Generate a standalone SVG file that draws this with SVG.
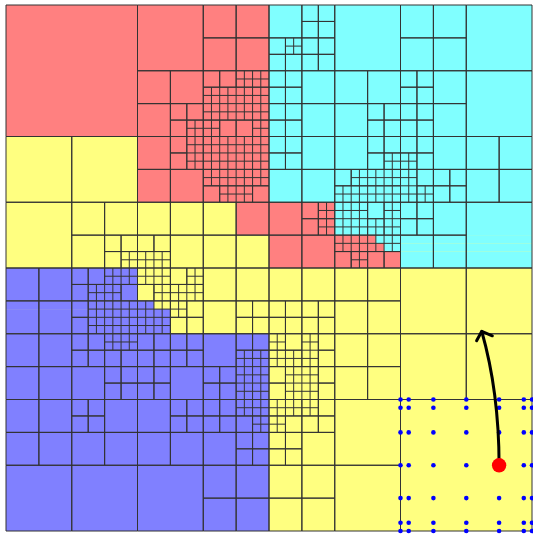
<svg xmlns="http://www.w3.org/2000/svg" width="533" height="534" viewBox="0 0 533 534">
<style>
.m path{fill:none;stroke:#333;stroke-width:1;vector-effect:non-scaling-stroke}
.r{fill:#FF8080}.y{fill:#FFFF80}.c{fill:#80FFFF}.b{fill:#8080FF}
.d{fill:#0000FF}
</style>
<rect width="533" height="534" fill="#fff"/>
<g id="mesh" transform="translate(6 5) scale(8.21875)">
<g id="colors">
<rect class="y" x="0" y="0" width="64" height="64"/>
<rect class="r" x="0" y="0" width="32" height="16"/>
<rect class="r" x="16" y="16" width="16" height="8"/>
<rect class="r" x="28" y="24" width="4" height="4"/>
<rect class="r" x="32" y="24" width="8" height="8"/>
<rect class="r" x="40" y="28" width="5" height="1"/>
<rect class="r" x="40" y="29" width="6" height="1"/>
<rect class="r" x="40" y="30" width="8" height="2"/>
<rect class="c" x="32" y="0" width="32" height="24"/>
<rect class="c" x="40" y="24" width="24" height="4"/>
<rect class="c" x="45" y="28" width="19" height="1"/>
<rect class="c" x="46" y="29" width="18" height="1"/>
<rect class="c" x="48" y="30" width="16" height="2"/>
<rect class="b" x="0" y="32" width="16" height="4"/>
<rect class="b" x="0" y="36" width="18" height="1"/>
<rect class="b" x="0" y="37" width="20" height="3"/>
<rect class="b" x="0" y="40" width="32" height="24"/>
</g>
<g class="m" id="cells">
<path id="q-tl" d="M0 0h16v16h-16z M16 0h8v8h-8z M24 0h4v4h-4z M28 0h4v4h-4z M24 4h4v4h-4z M28 4h4v4h-4z M16 8h4v4h-4z M20 8h4v4h-4z M16 12h4v4h-4z M20 12h2v2h-2z M22 12h2v2h-2z M20 14h2v2h-2z M22 14h2v2h-2z M22 15h2 M23 14v2 M24 8h2v2h-2z M26 8h2v2h-2z M28 8h4v2h-4z M28 9h4 M29 8v2 M30 8v2 M31 8v2 M24 10h8v4h-8z M24 11h8 M24 12h8 M24 13h8 M25 10v4 M26 10v4 M27 10v4 M28 10v4 M29 10v4 M30 10v4 M31 10v4 M24 14h2v2h-2z M24 15h2 M25 14v2 M26 14h2v2h-2z M28 14h2v2h-2z M30 14h2v2h-2z M30 15h2 M31 14v2 M16 16h4v4h-4z M20 16h2v2h-2z M20 18h2v2h-2z M22 16h2v4h-2z M22 17h2 M22 18h2 M22 19h2 M23 16v4 M16 20h4v4h-4z M20 20h4v4h-4z M24 16h8v4h-8z M24 17h8 M24 18h8 M24 19h8 M25 16v4 M26 16v4 M27 16v4 M28 16v4 M29 16v4 M30 16v4 M31 16v4 M24 20h8v2h-8z M24 21h8 M25 20v2 M26 20v2 M27 20v2 M28 20v2 M29 20v2 M30 20v2 M31 20v2 M24 22h2v2h-2z M26 22h4v2h-4z M26 23h4 M27 22v2 M28 22v2 M29 22v2 M30 22h2v2h-2z M0 16h8v8h-8z M8 16h8v8h-8z M0 24h8v8h-8z M8 24h4v4h-4z M12 24h4v4h-4z M8 28h4v4h-4z M12 28h2v2h-2z M14 28h2v2h-2z M12 30h2v2h-2z M14 30h2v2h-2z M14 31h2 M15 30v2 M16 24h4v4h-4z M20 24h4v4h-4z M16 28h2v2h-2z M18 28h2v2h-2z M16 30h4v2h-4z M16 31h4 M17 30v2 M18 30v2 M19 30v2 M20 28h4v4h-4z M24 24h4v4h-4z M28 24h4v4h-4z M24 28h4v4h-4z M28 28h4v4h-4z"/>
<path id="q-tr" d="M32 0h4v4h-4z M36 0h2v2h-2z M38 0h2v2h-2z M36 2h2v2h-2z M38 2h2v2h-2z M32 4h2v2h-2z M34 4h2v2h-2z M34 5h2 M35 4v2 M32 6h2v2h-2z M34 6h2v2h-2z M36 4h2v2h-2z M38 4h2v2h-2z M36 6h2v2h-2z M38 6h2v2h-2z M40 0h8v8h-8z M32 8h2v2h-2z M34 8h2v2h-2z M32 10h2v2h-2z M34 10h2v2h-2z M32 12h2v2h-2z M34 12h2v2h-2z M32 14h2v2h-2z M34 14h2v2h-2z M36 8h4v4h-4z M36 12h4v4h-4z M40 8h4v4h-4z M44 8h4v4h-4z M40 12h4v4h-4z M44 12h2v2h-2z M46 12h2v2h-2z M44 14h2v2h-2z M46 14h2v2h-2z M48 0h4v4h-4z M52 0h4v4h-4z M48 4h4v4h-4z M52 4h4v4h-4z M56 0h8v8h-8z M48 8h2v2h-2z M50 8h2v2h-2z M48 10h2v2h-2z M50 10h2v2h-2z M52 8h4v4h-4z M48 12h2v2h-2z M50 12h2v2h-2z M48 14h2v2h-2z M50 14h2v2h-2z M52 12h4v4h-4z M56 8h8v8h-8z M32 16h2v2h-2z M34 16h2v2h-2z M32 18h2v2h-2z M34 18h2v2h-2z M36 16h4v4h-4z M32 20h4v4h-4z M36 20h4v4h-4z M40 16h4v4h-4z M44 16h2v2h-2z M46 16h2v2h-2z M44 18h2v2h-2z M46 18h2v2h-2z M46 19h2 M47 18v2 M40 20h2v2h-2z M42 20h6v2h-6z M42 21h6 M43 20v2 M44 20v2 M45 20v2 M46 20v2 M47 20v2 M40 22h8v2h-8z M40 23h8 M41 22v2 M42 22v2 M43 22v2 M44 22v2 M45 22v2 M46 22v2 M47 22v2 M32 24h4v4h-4z M36 24h2v2h-2z M38 24h2v2h-2z M38 25h2 M39 24v2 M36 26h2v2h-2z M38 26h2v2h-2z M38 27h2 M39 26v2 M32 28h4v4h-4z M36 28h4v4h-4z M40 24h4v4h-4z M40 25h4 M40 26h4 M40 27h4 M41 24v4 M42 24v4 M43 24v4 M44 24h2v2h-2z M46 24h2v4h-2z M46 25h2 M46 26h2 M46 27h2 M47 24v4 M44 26h2v2h-2z M44 27h2 M45 26v2 M40 28h8v2h-8z M40 29h8 M41 28v2 M42 28v2 M43 28v2 M44 28v2 M45 28v2 M46 28v2 M47 28v2 M40 30h2v2h-2z M42 30h2v2h-2z M42 31h2 M43 30v2 M44 30h2v2h-2z M46 30h2v2h-2z M48 16h2v2h-2z M50 16h2v2h-2z M48 18h2v2h-2z M48 19h2 M49 18v2 M50 18h2v2h-2z M52 16h4v4h-4z M56 16h4v4h-4z M60 16h4v4h-4z M56 20h4v4h-4z M60 20h4v4h-4z M48 20h2v4h-2z M48 21h2 M48 22h2 M48 23h2 M49 20v4 M50 20h2v2h-2z M50 22h2v2h-2z M50 23h2 M51 22v2 M52 20h2v2h-2z M54 20h2v2h-2z M52 22h2v2h-2z M54 22h2v2h-2z M48 24h2v2h-2z M50 24h2v2h-2z M48 26h2v2h-2z M50 26h2v2h-2z M52 24h4v4h-4z M48 28h4v4h-4z M52 28h4v4h-4z M56 24h8v8h-8z"/>
<path id="q-bl" d="M0 32h4v4h-4z M4 32h4v4h-4z M0 36h4v4h-4z M4 36h4v4h-4z M8 32h2v2h-2z M10 32h2v2h-2z M12 32h4v2h-4z M12 33h4 M13 32v2 M14 32v2 M15 32v2 M8 34h2v2h-2z M10 34h4v2h-4z M10 35h4 M11 34v2 M12 34v2 M13 34v2 M14 34h2v2h-2z M8 36h2v2h-2z M8 38h2v2h-2z M10 36h6v4h-6z M10 37h6 M10 38h6 M10 39h6 M11 36v4 M12 36v4 M13 36v4 M14 36v4 M15 36v4 M0 40h4v4h-4z M4 40h4v4h-4z M0 44h4v4h-4z M4 44h4v4h-4z M8 40h2v2h-2z M10 40h2v2h-2z M12 40h4v2h-4z M12 41h4 M13 40v2 M14 40v2 M15 40v2 M8 42h2v2h-2z M10 42h2v2h-2z M12 42h2v2h-2z M14 42h2v2h-2z M8 44h4v4h-4z M12 44h2v2h-2z M14 44h2v2h-2z M12 46h2v2h-2z M14 46h2v2h-2z M16 32h4v2h-4z M16 33h4 M17 32v2 M18 32v2 M19 32v2 M16 34h2v2h-2z M18 34h2v2h-2z M18 35h2 M19 34v2 M16 36h4v4h-4z M16 37h4 M16 38h4 M16 39h4 M17 36v4 M18 36v4 M19 36v4 M20 32h2v2h-2z M22 32h2v2h-2z M22 33h2 M23 32v2 M20 34h4v2h-4z M20 35h4 M21 34v2 M22 34v2 M23 34v2 M20 36h2v2h-2z M20 37h2 M21 36v2 M22 36h2v2h-2z M20 38h2v2h-2z M22 38h2v2h-2z M24 32h4v4h-4z M28 32h4v4h-4z M24 36h4v4h-4z M28 36h2v2h-2z M30 36h2v2h-2z M28 38h2v2h-2z M30 38h2v2h-2z M16 40h2v2h-2z M18 40h2v2h-2z M16 42h2v2h-2z M18 42h2v2h-2z M20 40h2v2h-2z M22 40h2v2h-2z M20 42h2v2h-2z M22 42h2v2h-2z M24 40h4v4h-4z M28 40h2v2h-2z M30 40h2v2h-2z M28 42h4v6h-4z M28 43h4 M28 44h4 M28 45h4 M28 46h4 M28 47h4 M29 42v6 M30 42v6 M31 42v6 M16 44h2v2h-2z M18 44h2v2h-2z M16 46h2v2h-2z M18 46h2v2h-2z M20 44h4v4h-4z M24 44h2v2h-2z M26 44h2v2h-2z M24 46h2v2h-2z M26 46h2v2h-2z M0 48h4v4h-4z M4 48h4v4h-4z M0 52h4v4h-4z M4 52h4v4h-4z M8 48h2v2h-2z M10 48h2v2h-2z M8 50h2v2h-2z M10 50h2v2h-2z M12 48h4v4h-4z M8 52h4v4h-4z M12 52h4v4h-4z M0 56h8v8h-8z M8 56h8v8h-8z M16 48h4v4h-4z M16 52h4v4h-4z M20 48h2v2h-2z M22 48h2v2h-2z M20 50h2v2h-2z M22 50h2v2h-2z M20 52h4v4h-4z M24 48h2v2h-2z M26 48h2v2h-2z M24 50h2v2h-2z M26 50h2v2h-2z M24 52h4v4h-4z M28 48h4v2h-4z M28 49h4 M29 48v2 M30 48v2 M31 48v2 M28 50h2v2h-2z M30 50h2v2h-2z M30 51h2 M31 50v2 M28 52h2v2h-2z M30 52h2v2h-2z M28 54h2v2h-2z M30 54h2v2h-2z M16 56h8v8h-8z M24 56h4v4h-4z M28 56h4v4h-4z M24 60h4v4h-4z M28 60h4v4h-4z"/>
<path id="q-br" d="M32 32h4v4h-4z M36 32h4v4h-4z M40 32h4v4h-4z M44 32h4v4h-4z M32 36h2v2h-2z M34 36h2v2h-2z M32 38h2v2h-2z M34 38h2v2h-2z M36 36h2v2h-2z M38 36h2v2h-2z M36 38h2v2h-2z M38 38h2v2h-2z M40 36h4v4h-4z M44 36h4v4h-4z M32 40h2v2h-2z M32 41h2 M33 40v2 M34 40h2v2h-2z M32 42h4v2h-4z M32 43h4 M33 42v2 M34 42v2 M35 42v2 M36 40h2v4h-2z M36 41h2 M36 42h2 M36 43h2 M37 40v4 M38 40h2v2h-2z M38 42h2v2h-2z M32 44h2v2h-2z M32 46h2v2h-2z M34 44h4v4h-4z M34 45h4 M34 46h4 M34 47h4 M35 44v4 M36 44v4 M37 44v4 M38 44h2v2h-2z M38 46h2v2h-2z M40 40h4v4h-4z M44 40h4v4h-4z M40 44h4v4h-4z M44 44h4v4h-4z M48 32h8v8h-8z M56 32h8v8h-8z M48 40h8v8h-8z M56 40h8v8h-8z M32 48h4v2h-4z M32 49h4 M33 48v2 M34 48v2 M35 48v2 M32 50h2v2h-2z M32 51h2 M33 50v2 M34 50h2v2h-2z M36 48h2v2h-2z M36 49h2 M37 48v2 M38 48h2v2h-2z M36 50h2v2h-2z M38 50h2v2h-2z M32 52h2v2h-2z M34 52h2v2h-2z M32 54h2v2h-2z M34 54h2v2h-2z M36 52h4v4h-4z M40 48h8v8h-8z M32 56h4v4h-4z M36 56h4v4h-4z M32 60h4v4h-4z M36 60h4v4h-4z M40 56h8v8h-8z M48 48h16v16h-16z"/>
</g>
</g>
<g id="nodes-dots">
<circle class="d" cx="400.5" cy="399.5" r="2.3"/><circle class="d" cx="408.7" cy="399.5" r="2.3"/><circle class="d" cx="433.4" cy="399.5" r="2.3"/><circle class="d" cx="466.3" cy="399.5" r="2.3"/><circle class="d" cx="499.1" cy="399.5" r="2.3"/><circle class="d" cx="523.8" cy="399.5" r="2.3"/><circle class="d" cx="532" cy="399.5" r="2.3"/>
<circle class="d" cx="400.5" cy="407.7" r="2.3"/><circle class="d" cx="408.7" cy="407.7" r="2.3"/><circle class="d" cx="433.4" cy="407.7" r="2.3"/><circle class="d" cx="466.3" cy="407.7" r="2.3"/><circle class="d" cx="499.1" cy="407.7" r="2.3"/><circle class="d" cx="523.8" cy="407.7" r="2.3"/><circle class="d" cx="532" cy="407.7" r="2.3"/>
<circle class="d" cx="400.5" cy="432.4" r="2.3"/><circle class="d" cx="408.7" cy="432.4" r="2.3"/><circle class="d" cx="433.4" cy="432.4" r="2.3"/><circle class="d" cx="466.3" cy="432.4" r="2.3"/><circle class="d" cx="499.1" cy="432.4" r="2.3"/><circle class="d" cx="523.8" cy="432.4" r="2.3"/><circle class="d" cx="532" cy="432.4" r="2.3"/>
<circle class="d" cx="400.5" cy="465.3" r="2.3"/><circle class="d" cx="408.7" cy="465.3" r="2.3"/><circle class="d" cx="433.4" cy="465.3" r="2.3"/><circle class="d" cx="466.3" cy="465.3" r="2.3"/><circle class="d" cx="523.8" cy="465.3" r="2.3"/><circle class="d" cx="532" cy="465.3" r="2.3"/>
<circle class="d" cx="400.5" cy="498.1" r="2.3"/><circle class="d" cx="408.7" cy="498.1" r="2.3"/><circle class="d" cx="433.4" cy="498.1" r="2.3"/><circle class="d" cx="466.3" cy="498.1" r="2.3"/><circle class="d" cx="499.1" cy="498.1" r="2.3"/><circle class="d" cx="523.8" cy="498.1" r="2.3"/><circle class="d" cx="532" cy="498.1" r="2.3"/>
<circle class="d" cx="400.5" cy="522.8" r="2.3"/><circle class="d" cx="408.7" cy="522.8" r="2.3"/><circle class="d" cx="433.4" cy="522.8" r="2.3"/><circle class="d" cx="466.3" cy="522.8" r="2.3"/><circle class="d" cx="499.1" cy="522.8" r="2.3"/><circle class="d" cx="523.8" cy="522.8" r="2.3"/><circle class="d" cx="532" cy="522.8" r="2.3"/>
<circle class="d" cx="400.5" cy="531" r="2.3"/><circle class="d" cx="408.7" cy="531" r="2.3"/><circle class="d" cx="433.4" cy="531" r="2.3"/><circle class="d" cx="466.3" cy="531" r="2.3"/><circle class="d" cx="499.1" cy="531" r="2.3"/><circle class="d" cx="523.8" cy="531" r="2.3"/><circle class="d" cx="532" cy="531" r="2.3"/>
</g>
<g id="connectors" fill="none" stroke="#000" stroke-width="3" stroke-linecap="round" stroke-linejoin="round">
<path d="M499.1 465.3Q499 392 481.8 331.5"/>
<path d="M476.6 340.8L481.8 331.3L492.3 335.8"/>
</g>
<circle id="source" cx="499.1" cy="465.3" r="7.2" fill="#FF0000"/>
</svg>
